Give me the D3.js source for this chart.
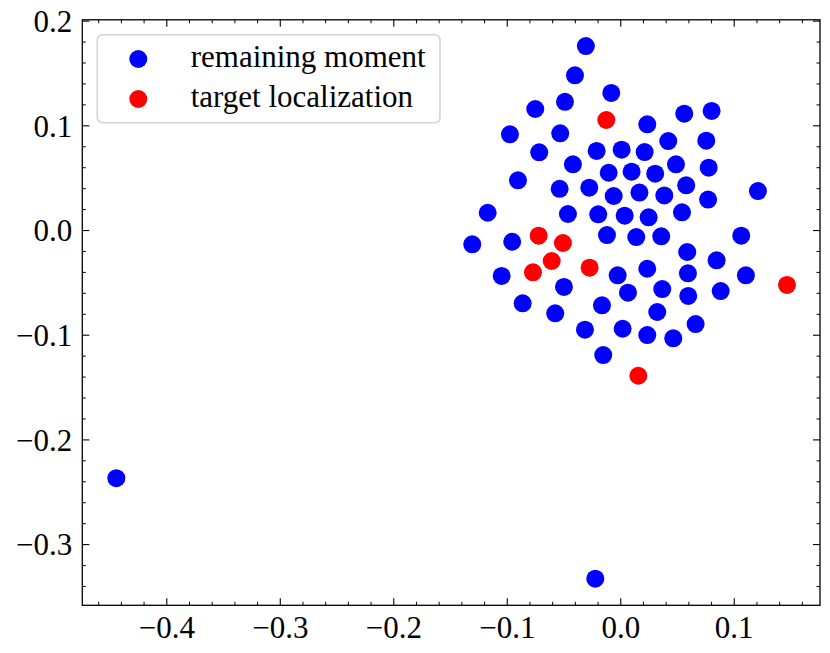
<!DOCTYPE html>
<html>
<head>
<meta charset="utf-8">
<script src="https://cdn.jsdelivr.net/npm/d3@7"></script>
<style>
    html, body { margin: 0; padding: 0; background: #fff; }
    text { font-family: "Liberation Serif", "Times New Roman", serif; }
</style>
</head>
<body>
<div id="chart"></div>
<script>
"use strict"

// Points.
const remainingX = [
    -0.0303, -0.0399, -0.0079, -0.0749, -0.0487, 0.0564, 0.0805, -0.0972, -0.0529, 0.0238,
    0.0423, 0.0758, -0.0714, -0.0208, 0.0012, 0.0215, -0.0417, 0.0491, 0.0779, -0.0102,
    0.0100, 0.0308, -0.0901, -0.0534, -0.0273, 0.0581, 0.1213, -0.0058, 0.0169, 0.0388,
    0.0774, -0.1168, -0.0461, -0.0194, 0.0039, 0.0250, 0.0544, -0.1304, -0.0952, -0.0117,
    0.0141, 0.0361, 0.1066, 0.0590, 0.0849, -0.0023, 0.0238, 0.0596, -0.1045, 0.1107,
    -0.0496, 0.0068, 0.0370, 0.0599, 0.0885, -0.0860, -0.0573, -0.0161, 0.0326, -0.0311,
    0.0021, 0.0238, 0.0467, 0.0664, -0.0150, -0.4440, -0.0220
]
const remainingY = [
    0.1757, 0.1478, 0.1309, 0.1156, 0.1225, 0.1111, 0.1137, 0.0914, 0.0924, 0.1010,
    0.0850, 0.0853, 0.0742, 0.0755, 0.0767, 0.0745, 0.0628, 0.0628, 0.0595, 0.0547,
    0.0557, 0.0538, 0.0475, 0.0394, 0.0404, 0.0427, 0.0372, 0.0325, 0.0358, 0.0330,
    0.0291, 0.0165, 0.0153, 0.0150, 0.0137, 0.0121, 0.0169, -0.0137, -0.0112, -0.0048,
    -0.0067, -0.0060, -0.0054, -0.0210, -0.0289, -0.0433, -0.0370, -0.0414, -0.0439, -0.0433,
    -0.0544, -0.0599, -0.0564, -0.0630, -0.0583, -0.0700, -0.0796, -0.0719, -0.0783, -0.0952,
    -0.0943, -0.1003, -0.1034, -0.0898, -0.1194, -0.2370, -0.3330
]
const targetX = [-0.0123, -0.0719, -0.0505, -0.0604, -0.0769, -0.0270, 0.1469, 0.0159]
const targetY = [0.1051, -0.0054, -0.0124, -0.0296, -0.0404, -0.0360, -0.0525, -0.1392]

const seriesNames = ["remaining moment", "target localization"]
const xTickValues = [-0.4, -0.3, -0.2, -0.1, 0.0, 0.1]
const yTickValues = [-0.3, -0.2, -0.1, 0.0, 0.1, 0.2]

const size = { width: 830, height: 653 }
const frame = { left: 82.3, right: 820, top: 19.8, bottom: 605.3 }
const fontSize = 31
const dotRadius = 9

const x = d3.scaleLinear().domain([-0.474, 0.176]).range([frame.left, frame.right])
const y = d3.scaleLinear().domain([-0.35846, 0.2008]).range([frame.bottom, frame.top])

const svg = d3.select("#chart")
    .append("svg")
    .attr("width", size.width)
    .attr("height", size.height)
    .attr("viewBox", `0 0 ${size.width} ${size.height}`)

svg.append("rect")
    .attr("width", size.width)
    .attr("height", size.height)
    .attr("fill", "#fff")

const fmt = d3.format(".1f")
const minorOf = (scale, majors) => {
    const [a, b] = scale.domain()
    return d3.range(Math.ceil(a * 50), Math.floor(b * 50) + 1)
        .map(i => i / 50)
        .filter(v => !majors.some(m => Math.abs(m - v) < 1e-9))
}
const xMinor = minorOf(x, xTickValues)
const yMinor = minorOf(y, yTickValues)

// Inward ticks on all four sides, SciencePlots style.
const tickGroups = [
    { axis: d3.axisBottom(x), at: frame.bottom, major: xTickValues, minor: xMinor, horizontal: true, labels: true },
    { axis: d3.axisTop(x), at: frame.top, major: xTickValues, minor: xMinor, horizontal: true, labels: false },
    { axis: d3.axisLeft(y), at: frame.left, major: yTickValues, minor: yMinor, horizontal: false, labels: true },
    { axis: d3.axisRight(y), at: frame.right, major: yTickValues, minor: yMinor, horizontal: false, labels: false }
]

tickGroups.forEach(t => {
    const shift = t.horizontal ? `translate(0,${t.at})` : `translate(${t.at},0)`

    const minorG = svg.append("g")
        .attr("transform", shift)
        .call(t.axis.tickValues(t.minor).tickSize(-3.5).tickFormat(""))
    minorG.select(".domain").remove()
    minorG.selectAll("line").attr("stroke", "#000").attr("stroke-width", 1)

    const majorG = svg.append("g")
        .attr("transform", shift)
        .call(t.axis.tickValues(t.major).tickSize(-7).tickFormat(t.labels ? fmt : ""))
    majorG.select(".domain").remove()
    majorG.selectAll("line").attr("stroke", "#000").attr("stroke-width", 1.1)
    majorG.selectAll("text")
        .attr("font-family", '"Liberation Serif", "Times New Roman", serif')
        .attr("font-size", fontSize)
        .attr("fill", "#000")
    if (t.horizontal) {
        majorG.selectAll("text").attr("y", 33).attr("dy", 0)
    } else {
        majorG.selectAll("text").attr("x", -10).attr("dy", "0.35em")
    }
})

svg.append("rect")
    .attr("x", frame.left)
    .attr("y", frame.top)
    .attr("width", frame.right - frame.left)
    .attr("height", frame.bottom - frame.top)
    .attr("fill", "none")
    .attr("stroke", "#000")
    .attr("stroke-width", 1.3)

const series = [
    { name: seriesNames[0], xs: remainingX, ys: remainingY, color: "#0000ff" },
    { name: seriesNames[1], xs: targetX, ys: targetY, color: "#ff0000" }
]

const plot = svg.append("g")
series.forEach(s => {
    plot.append("g")
        .selectAll("circle")
        .data(d3.zip(s.xs, s.ys))
        .enter()
        .append("circle")
        .attr("cx", d => x(d[0]))
        .attr("cy", d => y(d[1]))
        .attr("r", dotRadius)
        .attr("fill", s.color)
})

// Legend box, upper left.
const legend = svg.append("g")
legend.append("rect")
    .attr("x", 97.3)
    .attr("y", 34.7)
    .attr("width", 342.7)
    .attr("height", 88)
    .attr("rx", 5)
    .attr("fill", "#fff")
    .attr("fill-opacity", 0.8)
    .attr("stroke", "#d3d3d3")
    .attr("stroke-width", 1.6)

const rows = legend.selectAll(".legend-row")
    .data(series)
    .enter()
    .append("g")
    .attr("transform", (d, i) => `translate(0,${59 + i * 40})`)
rows.append("circle")
    .attr("cx", 138.3)
    .attr("cy", 0)
    .attr("r", dotRadius)
    .attr("fill", d => d.color)
rows.append("text")
    .attr("x", 190.7)
    .attr("y", 7.7)
    .attr("font-size", fontSize)
    .attr("fill", "#000")
    .text(d => d.name)
</script>
</body>
</html>
